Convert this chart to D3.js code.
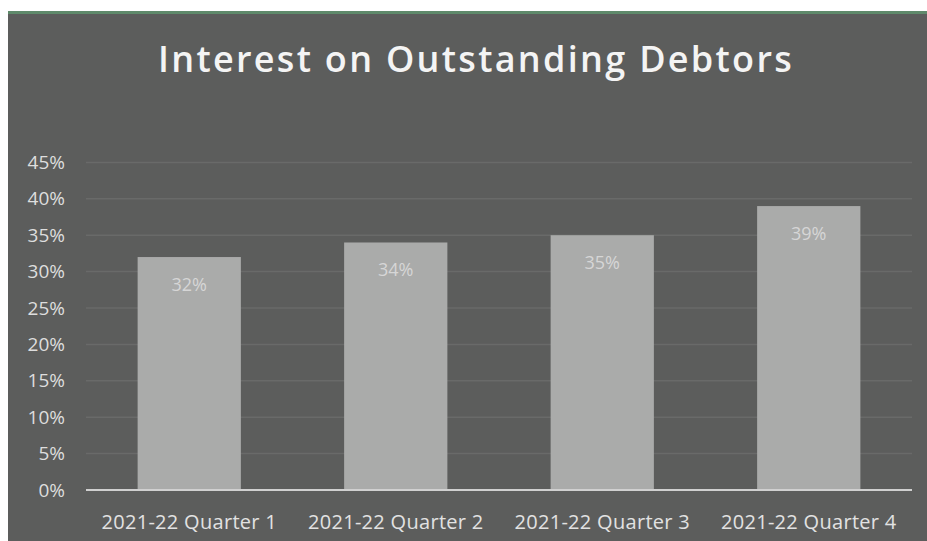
<!DOCTYPE html>
<html>
<head>
<meta charset="utf-8">
<script src="https://cdn.jsdelivr.net/npm/d3@7"></script>
<style>
  html, body { margin: 0; padding: 0; background: #ffffff; }
  svg { display: block; }
</style>
</head>
<body>
<svg id="chart" width="927" height="541"></svg>
<script>
// Quarterly interest on outstanding debtors (share, %)
const categories = ["2021-22 Quarter 1", "2021-22 Quarter 2", "2021-22 Quarter 3", "2021-22 Quarter 4"];
const values = [32, 34, 35, 39];
const yTicks = [0, 5, 10, 15, 20, 25, 30, 35, 40, 45];
const title = "Interest on Outstanding Debtors";

const svg = d3.select("#chart");
const W = 927, H = 541;

// panel
svg.append("rect").attr("x", 8).attr("y", 12).attr("width", W - 8).attr("height", H - 12)
  .attr("fill", "#5c5d5c");
svg.append("rect").attr("x", 8).attr("y", 11).attr("width", W - 8).attr("height", 3)
  .attr("fill", "#5f8a6b");

const plot = { left: 86, right: 912, top: 90, bottom: 490 };

const x = d3.scaleBand().domain(categories).range([plot.left, plot.right]).paddingInner(0.5).paddingOuter(0.25);
const y = d3.scaleLinear().domain([0, 45]).range([plot.bottom, plot.bottom - 45 * 7.28]);

// gridlines
svg.append("g")
  .selectAll("line").data(yTicks.filter(d => d > 0)).join("line")
  .attr("x1", plot.left).attr("x2", plot.right)
  .attr("y1", d => y(d)).attr("y2", d => y(d))
  .attr("stroke", "#696a69").attr("stroke-width", 1.5);

// bars
svg.append("g").selectAll("rect").data(values).join("rect")
  .attr("x", (d, i) => x(categories[i]))
  .attr("y", d => y(d))
  .attr("width", x.bandwidth())
  .attr("height", d => y(0) - y(d))
  .attr("fill", "#aaabaa");

// value labels
svg.append("g").selectAll("text").data(values).join("text")
  .attr("x", (d, i) => x(categories[i]) + x.bandwidth() / 2)
  .attr("y", d => y(d) + 34)
  .attr("text-anchor", "middle")
  .attr("font-family", "'Open Sans', sans-serif")
  .attr("font-size", 18)
  .attr("fill", "#d6d6d6")
  .text(d => d + "%");

// y axis
const yAxis = d3.axisLeft(y).tickValues(yTicks).tickFormat(d => d + "%").tickSize(0).tickPadding(0);
const gy = svg.append("g").attr("transform", "translate(65,0)").call(yAxis);
gy.select(".domain").remove();
gy.selectAll("text")
  .attr("font-family", "'Open Sans', sans-serif")
  .attr("font-size", 19)
  .attr("fill", "#dedede");

// x axis
const xAxis = d3.axisBottom(x).tickSize(0).tickPadding(0);
const gx = svg.append("g").attr("transform", `translate(0,${plot.bottom})`).call(xAxis);
gx.select(".domain").remove();
gx.selectAll("text")
  .attr("dy", 0)
  .attr("y", 39)
  .attr("font-family", "'Open Sans', sans-serif")
  .attr("font-size", 20)
  .attr("letter-spacing", 0.3)
  .attr("fill", "#e2e2e2");

// baseline
svg.append("line")
  .attr("x1", plot.left).attr("x2", plot.right)
  .attr("y1", y(0)).attr("y2", y(0))
  .attr("stroke", "#d0d0d0").attr("stroke-width", 2);

// title
svg.append("text")
  .attr("x", 476).attr("y", 72)
  .attr("text-anchor", "middle")
  .attr("font-family", "'Open Sans', sans-serif")
  .attr("font-weight", 600)
  .attr("font-size", 36)
  .attr("letter-spacing", 2.3)
  .attr("fill", "#f4f4f4")
  .text(title);
</script>
</body>
</html>
